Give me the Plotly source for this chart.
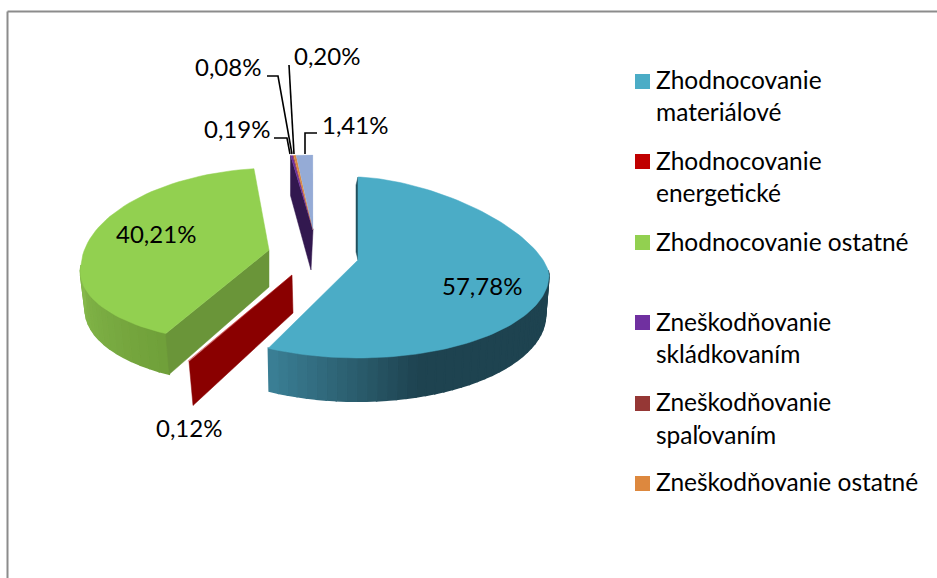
import math
import plotly.graph_objects as go

# ---------- data ----------
categories = ["Zhodnocovanie materiálové", "Zhodnocovanie energetické", "Zhodnocovanie ostatné",
              "Zneškodňovanie skládkovaním", "Zneškodňovanie spaľovaním", "Zneškodňovanie ostatné",
              "Ostatné"]
values = [57.78, 0.12, 40.21, 0.19, 0.08, 0.20, 1.41]
value_labels = ["57,78%", "0,12%", "40,21%", "0,19%", "0,08%", "0,20%", "1,41%"]
legend_lines = [["Zhodnocovanie", "materiálové"], ["Zhodnocovanie", "energetické"], ["Zhodnocovanie ostatné"],
                ["Zneškodňovanie", "skládkovaním"], ["Zneškodňovanie", "spaľovaním"], ["Zneškodňovanie ostatné"]]
colors = ["#4BACC6", "#C00000", "#92D050", "#7030A0", "#953735", "#DD883E", "#95ABD6"]
legend_colors = colors[:6]

# ---------- layout of the drawing ----------
W, H = 937, 578
FONT = "Lato"
FS_LABEL = 24
FS_LEGEND = 24.5
blue = dict(ax=358, ay=260, ey=275, rx=191, up=98, dn=83, pu=1.6, sd=0.0, su=0.0, depth=40, shift=-0.5)
red = dict(ax=292, ay=275, ey=275, rx=188, up=98, dn=98, pu=2, sd=-0.17, su=0.0, depth=40, shift=2)
green = dict(ax=269, ay=250, ey=265, rx=188, up=97, dn=78, pu=2, sd=-0.2, su=-0.075, depth=38, shift=2)
thin = dict(ax=313, ay=230, ey=230, rx=190, up=75, dn=75, pu=2, sd=0.0, su=0.0, depth=40, shift=0)
geom = [blue, red, green, thin, thin, thin, thin]
label_pos = [(482, 285.5), (189, 427.5), (156, 233.5), (237, 128.5), (228, 66.5), (327, 55.5), (355, 124.5)]
leaders = [[(274, 138), (287, 138), (290, 154)], [(267, 76), (278, 76), (292, 154)],
           [(289, 65), (294, 154)], [(317, 133), (305, 133), (305, 154)]]
swatch_y = [81.5, 161.5, 242.5, 322.5, 403.5, 483.5]
line_y = [[79.5, 111.5], [160.5, 192.5], [241.5], [321.5, 353.5], [401.5, 434.5], [481.5]]


def outer(g, deg):
    a = math.radians(deg)
    s, c = math.sin(a), math.cos(a)
    p = g["pu"] if c > 0 else 2
    S = math.copysign(abs(s) ** (2 / p), s)
    C = math.copysign(abs(c) ** (2 / p), c)
    y = g["ey"] - g["up"] * C if c > 0 else g["ey"] - g["dn"] * C
    dy = y - g["ey"]
    x = g["ax"] + g["rx"] * S + (g["sd"] if dy > 0 else g["su"]) * dy
    return x, y


def low(g, pt):
    # the same point on the underside of the slice
    x, y = pt
    return g["ax"] + (x - g["ax"]) * 0.985 + g["shift"], y + g["depth"] + max(0, y - g["ey"]) * 0.04


def poly(fig, pts, color, lw=0.5):
    xs = [p[0] for p in pts] + [pts[0][0]]
    ys = [p[1] for p in pts] + [pts[0][1]]
    fig.add_trace(go.Scatter(x=xs, y=ys, mode="lines", fill="toself", fillcolor=color,
                             line=dict(color=color, width=lw), hoverinfo="skip", showlegend=False))


def mix(c1, c2, t):
    t = max(0, min(1, t))
    return "rgb(%d,%d,%d)" % tuple(round(a + (b - a) * t) for a, b in zip(c1, c2))


# cumulative angles from the values
starts, ends = [], []
cum = 0.0
for v in values:
    starts.append(cum * 3.6)
    cum += v
    ends.append(cum * 3.6)


def arc(g, a0, a1, n=60):
    return [outer(g, a0 + (a1 - a0) * i / n) for i in range(n + 1)]


fig = go.Figure()

# --- green slice ---
g = green
a0, a1 = starts[2], ends[2]
corner = outer(g, a0)
wall_steps = 16
for i in range(wall_steps):
    d0 = a0 + (270 - a0) * i / wall_steps
    d1 = a0 + (270 - a0) * (i + 1) / wall_steps
    p0, p1 = outer(g, d0), outer(g, d1)
    poly(fig, [p0, p1, low(g, p1), low(g, p0)], mix((112, 160, 58), (134, 186, 76), i / wall_steps), 1.5)
poly(fig, [(g["ax"], g["ay"]), corner, low(g, corner), (g["ax"], g["ay"] + 37)], "#6A9539")
poly(fig, [(g["ax"], g["ay"])] + arc(g, a0, a1), colors[2])

# --- thin slices at the back ---
g = thin
p = outer(g, starts[3])
poly(fig, [p, (p[0], p[1] + 40), (g["ax"] - 2, g["ay"] + 40), (g["ax"], g["ay"])], "#32184F")
for k in range(3, 7):
    poly(fig, [(g["ax"], g["ay"])] + arc(g, starts[k], min(ends[k], 360), 6), colors[k], 0.2)

# --- red slice: only its cut face is visible ---
g = red
p = outer(g, starts[1])
poly(fig, [(g["ax"], g["ay"]), p, (p[0] + 4, p[1] + 44), (g["ax"] + 1, g["ay"] + 38)], "#8A0000")
poly(fig, [(g["ax"], g["ay"])] + arc(g, starts[1], ends[1], 3), colors[1], 0.2)

# --- blue slice ---
g = blue
a0, a1 = starts[0], ends[0]
wall_steps = 40
for i in range(wall_steps):
    d0 = 85 + (a1 - 85) * i / wall_steps
    d1 = 85 + (a1 - 85) * (i + 1) / wall_steps
    p0, p1 = outer(g, d0), outer(g, d1)
    t = (p0[0] - 268) / 155
    poly(fig, [p0, p1, low(g, p1), low(g, p0)], mix((60, 130, 152), (30, 67, 80), t), 1.5)
top0 = outer(g, a0)
poly(fig, [(g["ax"], g["ay"]), (g["ax"] - 2, g["ay"] - 8), (top0[0] - 2, top0[1] + 8), top0], "#23505F")
poly(fig, [(g["ax"], g["ay"])] + arc(g, a0, a1, 120), colors[0])

# --- leader lines ---
for pts in leaders:
    fig.add_trace(go.Scatter(x=[p[0] for p in pts], y=[p[1] for p in pts], mode="lines",
                             line=dict(color="#000000", width=1.6), hoverinfo="skip", showlegend=False))

# --- legend swatches ---
fig.add_trace(go.Scatter(x=[642.5] * len(swatch_y), y=swatch_y, mode="markers",
                         marker=dict(symbol="square", size=15, color=legend_colors, line=dict(width=0)),
                         hoverinfo="skip", showlegend=False))

annotations = []
for (x, y), t in zip(label_pos, value_labels):
    annotations.append(dict(x=x, y=y, text=t, showarrow=False, xanchor="center", yanchor="middle",
                            font=dict(family=FONT, size=FS_LABEL, color="#000000")))
for lines, ys in zip(legend_lines, line_y):
    for t, y in zip(lines, ys):
        annotations.append(dict(x=654, y=y, text=t, showarrow=False, xanchor="left", yanchor="middle",
                                font=dict(family=FONT, size=FS_LEGEND, color="#000000")))

fig.update_layout(
    width=W, height=H, margin=dict(l=0, r=0, t=0, b=0), paper_bgcolor="#FFFFFF", plot_bgcolor="#FFFFFF",
    xaxis=dict(range=[0, W], visible=False, fixedrange=True),
    yaxis=dict(range=[H, 0], visible=False, fixedrange=True),
    annotations=annotations,
    shapes=[dict(type="line", x0=7.5, y0=11.5, x1=W, y1=11.5, line=dict(color="#8C8C8C", width=2)),
            dict(type="line", x0=7.5, y0=11.5, x1=7.5, y1=H, line=dict(color="#8C8C8C", width=2))],
)
fig.write_html("out.html", config=dict(displayModeBar=False),
               post_script="document.body.style.margin='0';document.body.style.overflow='hidden';")
